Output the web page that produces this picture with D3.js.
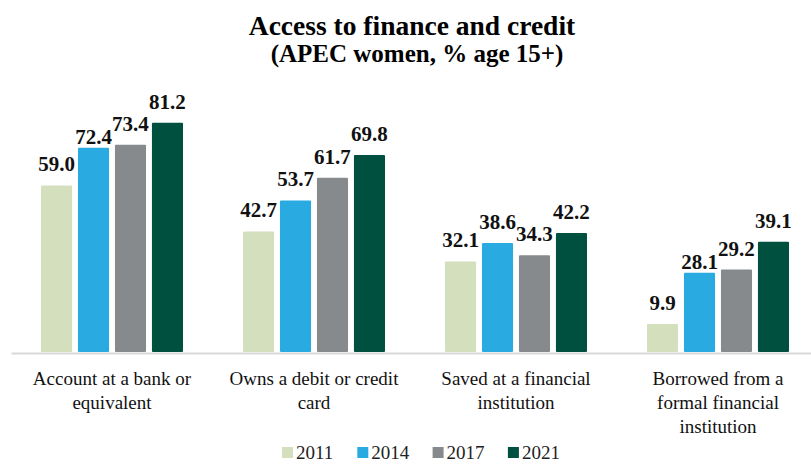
<script src="https://d3js.org/d3.v7.min.js"></script>
<body style="margin:0">
<script>
    // Data
    var categories = ["Account at a bank or\nequivalent", "Owns a debit or credit\ncard",
                      "Saved at a financial\ninstitution", "Borrowed from a\nformal financial\ninstitution"];
    var years = ["2011", "2014", "2017", "2021"];
    var values2011 = [59.0, 42.7, 32.1, 9.9];
    var values2014 = [72.4, 53.7, 38.6, 28.1];
    var values2017 = [73.4, 61.7, 34.3, 29.2];
    var values2021 = [81.2, 69.8, 42.2, 39.1];
    var seriesValues = [values2011, values2014, values2017, values2021];
    var colors = ["#d3dfbd", "#29aae1", "#878a8d", "#00503f"];

    var W = 811, H = 464;
    var serif = "'Liberation Serif'";

    var svg = d3.select("body").append("svg")
        .attr("width", W).attr("height", H)
        .style("background", "#fff");

    function txt(sel, size, bold) {
        return sel.style("font-family", serif)
            .style("font-size", size + "px")
            .style("font-weight", bold ? "bold" : "normal");
    }

    // Scales
    var x0 = d3.scaleBand().domain(categories).range([11, 819]);
    var x1 = d3.scaleBand().domain(years).range([30, x0.bandwidth() - 30]).paddingInner(0.16);
    var y = d3.scaleLinear().domain([0, 90]).range([352, 98]);

    // Title
    txt(svg.append("text").attr("x", 412).attr("y", 35)
        .attr("text-anchor", "middle"), 27.5, true)
        .text("Access to finance and credit");
    txt(svg.append("text").attr("x", 417).attr("y", 62)
        .attr("text-anchor", "middle"), 25, true)
        .text("(APEC women, % age 15+)");

    // Bars
    var groups = svg.selectAll("g.grp")
        .data(categories)
        .enter().append("g")
        .attr("class", "grp")
        .attr("transform", function(d) { return "translate(" + x0(d) + ",0)"; });

    groups.each(function(cat, ci) {
        var g = d3.select(this);
        var rows = years.map(function(yr, si) { return {year: yr, value: seriesValues[si][ci], color: colors[si]}; });

        // label baselines: 14px above bar, neighbours that collide get the lower one pushed down
        rows.forEach(function(d) { d.ly = y(d.value) - 14; });
        for (var i = 0; i < rows.length - 1; i++) {
            var a = rows[i], b = rows[i + 1];
            if (Math.abs(a.ly - b.ly) < 12) {
                var lo = a.value < b.value ? a : b, hi = lo === a ? b : a;
                lo.ly = Math.min(hi.ly + 13, y(lo.value) - 3);
            }
        }

        g.selectAll("rect").data(rows).enter().append("rect")
            .attr("x", function(d) { return x1(d.year); })
            .attr("y", function(d) { return y(d.value); })
            .attr("width", x1.bandwidth())
            .attr("height", function(d) { return y(0) - y(d.value); })
            .attr("rx", 1)
            .attr("fill", function(d) { return d.color; });

        txt(g.selectAll("text.val").data(rows).enter().append("text")
            .attr("class", "val")
            .attr("x", function(d) { return x1(d.year) + x1.bandwidth() / 2; })
            .attr("y", function(d) { return d.ly; })
            .attr("text-anchor", "middle"), 21, true)
            .attr("fill", "#111")
            .text(function(d) { return d.value.toFixed(1); });
    });

    // X axis
    var xAxis = svg.append("g")
        .attr("transform", "translate(0,353)")
        .call(d3.axisBottom(x0).tickSize(0).tickFormat(""));
    xAxis.select(".domain").attr("stroke", "#d9d9d9").attr("stroke-width", 2);

    // Category labels
    txt(svg.selectAll("text.cat").data(categories).enter().append("text")
        .attr("class", "cat")
        .attr("text-anchor", "middle"), 19, false)
        .attr("fill", "#111")
        .each(function(d) {
            var t = d3.select(this);
            var cx = x0(d) + x0.bandwidth() / 2;
            d.split("\n").forEach(function(line, i) {
                t.append("tspan").attr("x", cx).attr("y", 385 + i * 24).text(line);
            });
        });

    // Legend
    var legend = svg.selectAll("g.leg").data(years).enter().append("g")
        .attr("class", "leg")
        .attr("transform", function(d, i) { return "translate(" + (282 + i * 75.3) + ",0)"; });
    legend.append("rect").attr("x", 0).attr("y", 447).attr("width", 11).attr("height", 11)
        .attr("fill", function(d, i) { return colors[i]; });
    txt(legend.append("text").attr("x", 14).attr("y", 459), 19, false)
        .attr("fill", "#222")
        .text(function(d) { return d; });
</script>
</body>
